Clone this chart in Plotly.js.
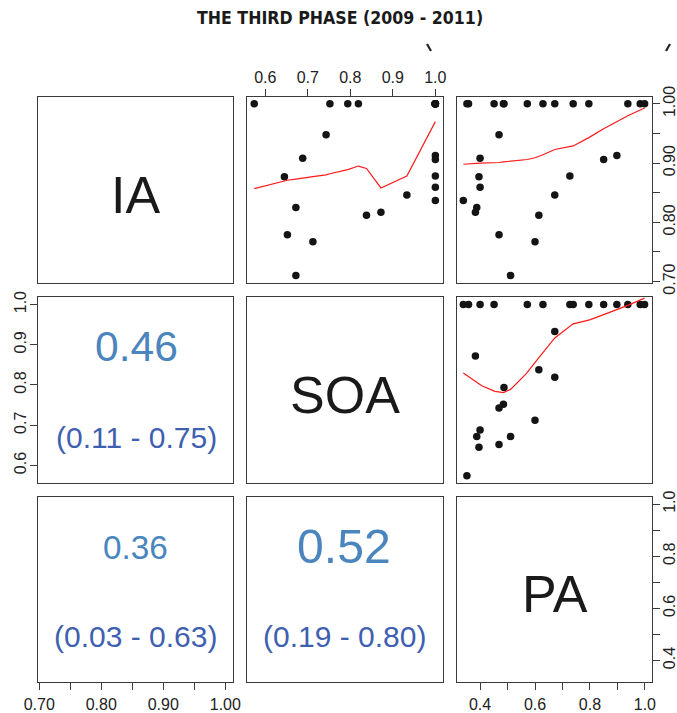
<!DOCTYPE html>
<html>
<head>
<meta charset="utf-8">
<script src="https://cdn.plot.ly/plotly-3.0.1.min.js"></script>
<style>html,body{margin:0;padding:0;background:#fff;}#chart{width:677px;height:713px;}</style>
</head>
<body>
<div id="chart"></div>
<script>
// ---- data ----
var IA  = [0.948,0.908,0.877,0.825,0.817,0.812,0.779,0.767,0.710,0.846,0.913,0.906,0.878,0.859,0.837,
           1.0,1.0,1.0,1.0, 1.0,1.0,1.0,1.0,1.0,1.0,1.0,1.0,1.0];
var SOA = [0.743,0.688,0.645,0.672,0.872,0.838,0.652,0.712,0.672,0.933,1.0,1.0,1.0,1.0,1.0,
           0.574,0.794,0.752,0.819, 1.0,1.0,1.0,1.0,1.0,1.0,1.0,1.0,1.0];
var PA  = [0.469,0.400,0.396,0.388,0.383,0.614,0.469,0.600,0.511,0.672,0.898,0.850,0.727,0.400,0.339,
           0.352,0.487,0.485,0.672, 0.358,0.451,0.572,0.629,0.739,0.796,0.938,0.983,0.999];

// smoother lines
var smoothSOA_IA_x = [0.574,0.645,0.652,0.672,0.688,0.712,0.743,0.752,0.794,0.819,0.838,0.872,0.933,1.0];
var smoothSOA_IA_y = [0.857,0.870,0.871,0.873,0.875,0.877,0.880,0.882,0.889,0.895,0.891,0.858,0.878,0.970];
var smoothPA_IA_x  = [0.339,0.400,0.469,0.485,0.572,0.600,0.629,0.672,0.739,0.796,0.850,0.898,0.938,0.999];
var smoothPA_IA_y  = [0.898,0.900,0.901,0.902,0.906,0.909,0.914,0.923,0.929,0.943,0.958,0.970,0.980,0.993];
var smoothPA_SOA_x = [0.339,0.406,0.454,0.485,0.511,0.569,0.612,0.672,0.739,0.799,0.850,0.938,0.999];
var smoothPA_SOA_y = [0.830,0.798,0.784,0.781,0.789,0.829,0.866,0.917,0.952,0.962,0.975,0.998,1.016];

// variable labels and correlations
var varNames = ["IA","SOA","PA"];
var corrValues = ["0.46","0.36","0.52"];
var corrCI = ["(0.11 - 0.75)","(0.03 - 0.63)","(0.19 - 0.80)"];
var corrNum = [0.46,0.36,0.52];

// tick labels
var iaTicks = [0.70,0.75,0.80,0.85,0.90,0.95,1.00];
var iaTickText = ["0.70","","0.80","","0.90","","1.00"];
var soaTicks = [0.6,0.7,0.8,0.9,1.0];
var soaTickText = ["0.6","0.7","0.8","0.9","1.0"];
var paTicks = [0.4,0.5,0.6,0.7,0.8,0.9,1.0];
var paTickText = ["0.4","","0.6","","0.8","","1.0"];

var titleText = "THE THIRD PHASE (2009 - 2011)";

// ---- layout helpers ----
var W = 677, H = 713;
var colPx = [[38,232.5],[247,443],[457,652]];
var rowPx = [[97,282.7],[297.3,482.7],[497.3,682.3]];
var ranges = [[0.698,1.0116],[0.557,1.018],[0.316,1.026]];
var FONT = "Liberation Sans, Arial, sans-serif";

function xdom(c){return [colPx[c][0]/W, colPx[c][1]/W];}
function ydom(r){return [1-rowPx[r][1]/H, 1-rowPx[r][0]/H];}
function px(x){return x/W;}
function py(y){return 1-y/H;}

function baseAxis(domain, range, anchor){
  return {domain:domain, range:range, anchor:anchor, showline:true, mirror:true,
          linecolor:"#3a3a3a", linewidth:1, showgrid:false, zeroline:false,
          ticks:"", showticklabels:false, fixedrange:true};
}
function withTicks(a, vals, text, side, angle, standoff){
  a.ticks = "outside"; a.ticklen = 7; a.tickwidth = 1; a.tickcolor = "#3a3a3a";
  a.tickvals = vals; a.ticktext = text; a.showticklabels = true; a.side = side;
  a.tickfont = {family:FONT, size:16, color:"#222"};
  if (angle !== undefined) a.tickangle = angle;
  if (standoff !== undefined) a.ticklabelstandoff = standoff;
  return a;
}

var layout = {width:W, height:H, margin:{l:0,r:0,t:0,b:0}, showlegend:false,
              paper_bgcolor:"#fff", plot_bgcolor:"#fff", annotations:[], shapes:[]};

var data = [];
// build 9 panel axes: panel index k = r*3+c+1, x var = c, y var = r
for (var r=0;r<3;r++){
  for (var c=0;c<3;c++){
    var k = r*3+c+1;
    var xn = k===1 ? "xaxis" : "xaxis"+k;
    var yn = k===1 ? "yaxis" : "yaxis"+k;
    var xa = baseAxis(xdom(c), ranges[c], k===1?"y":"y"+k);
    var ya = baseAxis(ydom(r), ranges[r], k===1?"x":"x"+k);
    layout[xn]=xa; layout[yn]=ya;
    // empty trace so every panel frame is drawn
    data.push({type:"scatter", mode:"markers", x:[], y:[], xaxis:k===1?"x":"x"+k, yaxis:k===1?"y":"y"+k, hoverinfo:"none"});
  }
}
withTicks(layout.xaxis2, soaTicks, soaTickText, "top");
withTicks(layout.yaxis3, iaTicks, iaTickText, "right", -90, -4);
withTicks(layout.yaxis4, soaTicks, soaTickText, "left", -90, -2);
withTicks(layout.xaxis7, iaTicks, iaTickText, "bottom");
withTicks(layout.xaxis9, paTicks, paTickText, "bottom");
withTicks(layout.yaxis9, paTicks, paTickText, "right", -90, -4);

// traces
var pt = {color:"#141414", size:7.5, line:{width:0}};
var ln = {color:"#ff1a1a", width:1.2};
data.push(
  {type:"scatter", mode:"markers", x:SOA, y:IA, xaxis:"x2", yaxis:"y2", marker:pt, hoverinfo:"none"},
  {type:"scatter", mode:"lines", x:smoothSOA_IA_x, y:smoothSOA_IA_y, xaxis:"x2", yaxis:"y2", line:ln, hoverinfo:"none"},
  {type:"scatter", mode:"markers", x:PA, y:IA, xaxis:"x3", yaxis:"y3", marker:pt, hoverinfo:"none"},
  {type:"scatter", mode:"lines", x:smoothPA_IA_x, y:smoothPA_IA_y, xaxis:"x3", yaxis:"y3", line:ln, hoverinfo:"none"},
  {type:"scatter", mode:"markers", x:PA, y:SOA, xaxis:"x6", yaxis:"y6", marker:pt, hoverinfo:"none"},
  {type:"scatter", mode:"lines", x:smoothPA_SOA_x, y:smoothPA_SOA_y, xaxis:"x6", yaxis:"y6", line:ln, hoverinfo:"none"}
);

// diagonal labels
var diagPos = [[135,195],[345,395],[555,594]];
for (var i=0;i<3;i++){
  layout.annotations.push({text:varNames[i], xref:"paper", yref:"paper", x:px(diagPos[i][0]), y:py(diagPos[i][1]),
    xanchor:"center", yanchor:"middle", showarrow:false, font:{family:FONT, size:52, color:"#1a1a1a"}});
}
// correlation panels: (row2,col1), (row3,col1), (row3,col2)
var corrPos = [[136,346,437],[135,547,636],[344,546,636]];
for (var j=0;j<3;j++){
  layout.annotations.push({text:corrValues[j], xref:"paper", yref:"paper", x:px(corrPos[j][0]), y:py(corrPos[j][1]),
    xanchor:"center", yanchor:"middle", showarrow:false, font:{family:FONT, size:92.6*corrNum[j], color:"#4a86bd"}});
  layout.annotations.push({text:corrCI[j], xref:"paper", yref:"paper", x:px(corrPos[j][0]), y:py(corrPos[j][2]),
    xanchor:"center", yanchor:"middle", showarrow:false, font:{family:FONT, size:30, color:"#3f5fb0"}});
}
// title
layout.annotations.push({text:"<b>"+titleText+"</b>", xref:"paper", yref:"paper", x:px(340), y:py(18),
  xanchor:"center", yanchor:"middle", showarrow:false,
  font:{family:"Liberation Sans Narrow, DejaVu Sans Condensed, Arial Narrow, sans-serif", size:17.6, color:"#1a1a1a"}});
// clipped remnants of a cut-off line under the title
layout.shapes.push({type:"line", xref:"paper", yref:"paper", x0:px(427), y0:py(44), x1:px(431), y1:py(51), line:{color:"#222", width:2.2}});
layout.shapes.push({type:"line", xref:"paper", yref:"paper", x0:px(670), y0:py(44), x1:px(666), y1:py(51), line:{color:"#222", width:2.2}});

Plotly.newPlot("chart", data, layout, {displayModeBar:false, staticPlot:true});
</script>
</body>
</html>
